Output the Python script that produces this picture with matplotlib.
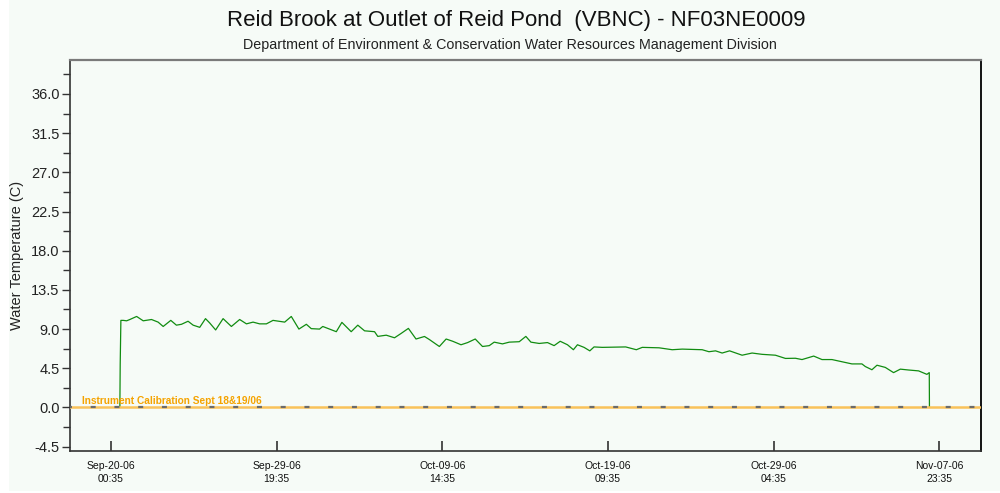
import datetime as dt
import numpy as np
import matplotlib
matplotlib.use("Agg")
import matplotlib.pyplot as plt
import matplotlib.dates as mdates
from matplotlib.patches import Rectangle

# water temperature record, time in days after Sep-20-06 00:35
days = [0.53, 0.55, 0.59, 0.73, 0.93, 1.12, 1.52, 1.91, 2.40, 2.79, 3.09, 3.54,
        3.87, 4.17, 4.56, 4.86, 5.25, 5.59, 5.84, 6.19, 6.63, 7.12, 7.61, 8.01,
        8.40, 8.79, 9.19, 9.58, 10.27, 10.66, 11.11, 11.55, 11.84, 12.33,
        12.52, 13.32, 13.65, 14.20, 14.59, 14.99, 15.58, 15.77, 16.27, 16.76,
        17.15, 17.58, 18.03, 18.53, 18.82, 19.41, 19.81, 20.20, 20.69, 21.08,
        21.53, 21.96, 22.36, 22.65, 23.14, 23.54,
        24.13, 24.52, 24.82, 25.31, 25.80, 26.19, 26.55, 26.98, 27.33, 27.57,
        27.96, 28.30, 28.55, 29.04, 30.42, 31.05, 31.40, 32.39, 33.17, 33.76,
        34.94, 35.34,
        35.73, 36.12, 36.56, 37.30, 37.89, 38.48, 39.27, 39.86, 40.45, 40.84,
        41.53, 42.02, 42.61, 43.20, 43.79, 44.38, 44.58, 44.97, 45.27, 45.76,
        46.25, 46.65, 47.14, 47.73, 48.22, 48.36, 48.37]
temps = [0.0, 5.0, 10.0, 10.0, 9.95, 10.1, 10.45, 9.95, 10.1, 9.8, 9.3, 10.0,
         9.45, 9.55, 9.9, 9.45, 9.2, 10.2, 9.7, 8.9, 10.2, 9.3, 10.1, 9.6,
         9.8, 9.6, 9.6, 10.0, 9.8, 10.45, 9.0, 9.55, 9.05, 9.0,
         9.3, 8.7, 9.77, 8.7, 9.45, 8.8, 8.7, 8.16, 8.3, 8.0,
         8.5, 9.08, 7.86, 8.15, 7.8, 7.0, 7.86, 7.6, 7.2, 7.45,
         7.86, 7.0, 7.1, 7.5, 7.3, 7.5,
         7.55, 8.16, 7.5, 7.35, 7.45, 7.1, 7.6, 7.2, 6.63, 7.2,
         6.9, 6.5, 6.95, 6.9, 6.95, 6.63, 6.9, 6.85, 6.63, 6.7,
         6.63, 6.4,
         6.5, 6.25, 6.5, 6.0, 6.25, 6.1, 6.0, 5.63, 5.65, 5.5,
         5.9, 5.5, 5.5, 5.25, 5.0, 5.0, 4.7, 4.33, 4.85, 4.6,
         4.0, 4.4, 4.3, 4.2, 3.8, 4.0, 0.0]

start = dt.datetime(2006, 9, 20, 0, 35)
tick_step_h = 235
tick_labels = ["Sep-20-06\n00:35", "Sep-29-06\n19:35", "Oct-09-06\n14:35",
               "Oct-19-06\n09:35", "Oct-29-06\n04:35", "Nov-07-06\n23:35"]
y_major = np.arange(-4.5, 36.1, 4.5)
note = "Instrument Calibration Sept 18&19/06"

bg = "#f6fbf7"
plt.rcParams["font.family"] = ["Liberation Sans", "DejaVu Sans"]
plt.rcParams["lines.scale_dashes"] = False

fig = plt.figure(figsize=(10, 4.93), dpi=100, facecolor="white")
fig.patches.append(Rectangle((0.009, 0.004), 0.991, 0.996, transform=fig.transFigure,
                             facecolor=bg, edgecolor="none", zorder=-10))
ax = fig.add_axes([0.070, 0.0852, 0.911, 0.7931])
ax.set_facecolor(bg)

times = [start + dt.timedelta(days=d) for d in days]
ax.plot(times, temps, color="#118c11", lw=0.9, zorder=3)

# calibration reference at zero with dashed grid line over it
left = start - dt.timedelta(hours=58)
right = start + dt.timedelta(hours=5 * tick_step_h + 59)
ax.plot([left, right], [0, 0], color="#f9c25a", lw=1.8, zorder=4)
ax.plot([left, right], [0, 0], color="#6b6b6b", lw=1.6, zorder=5,
        linestyle=(2.2, (3.6, 13.5)))
ax.text(start - dt.timedelta(hours=41), 0.4, note, color="#f5a300",
        fontsize=7.3, fontweight="bold", va="baseline", ha="left", zorder=6)

ax.set_xlim(left, right)
ax.set_ylim(-5.0, 39.9)

ticks = [start + dt.timedelta(hours=k * tick_step_h) for k in range(len(tick_labels))]
ax.set_xticks(ticks)
ax.set_xticklabels(tick_labels, fontsize=7.5, linespacing=1.45, color="#111111")
ax.tick_params(axis="x", direction="in", length=7.5, width=1.1, pad=7, color="#222222")

ax.set_yticks(y_major)
ax.set_yticklabels([f"{v:.1f}" for v in y_major], fontsize=10.5, color="#222222")
ax.set_yticks(y_major[:-1] + 2.25, minor=True)
ax.set_yticks(list(y_major[:-1] + 2.25) + [38.25], minor=True)
ax.tick_params(axis="y", which="major", direction="out", length=5.5, width=1, pad=2, color="#333333")
ax.tick_params(axis="y", which="minor", direction="out", length=5, width=1, color="#333333")

for side in ("left", "bottom"):
    ax.spines[side].set_color("#333333")
    ax.spines[side].set_linewidth(1.2)
ax.spines["top"].set_color("#7a7a7a")
ax.spines["top"].set_linewidth(1.6)
ax.spines["right"].set_color("#000000")
ax.spines["right"].set_linewidth(1.3)

fig.text(0.017, 0.482, "Water Temperature (C)", rotation=90, ha="center", va="center",
         fontsize=10.5, color="#222222")
fig.text(0.516, 0.958, "Reid Brook at Outlet of Reid Pond  (VBNC) - NF03NE0009",
         ha="center", va="center", fontsize=16, color="#111111")
fig.text(0.510, 0.909, "Department of Environment & Conservation Water Resources Management Division",
         ha="center", va="center", fontsize=10.3, color="#222222")

fig.savefig("out.png", dpi=100, facecolor=fig.get_facecolor())
